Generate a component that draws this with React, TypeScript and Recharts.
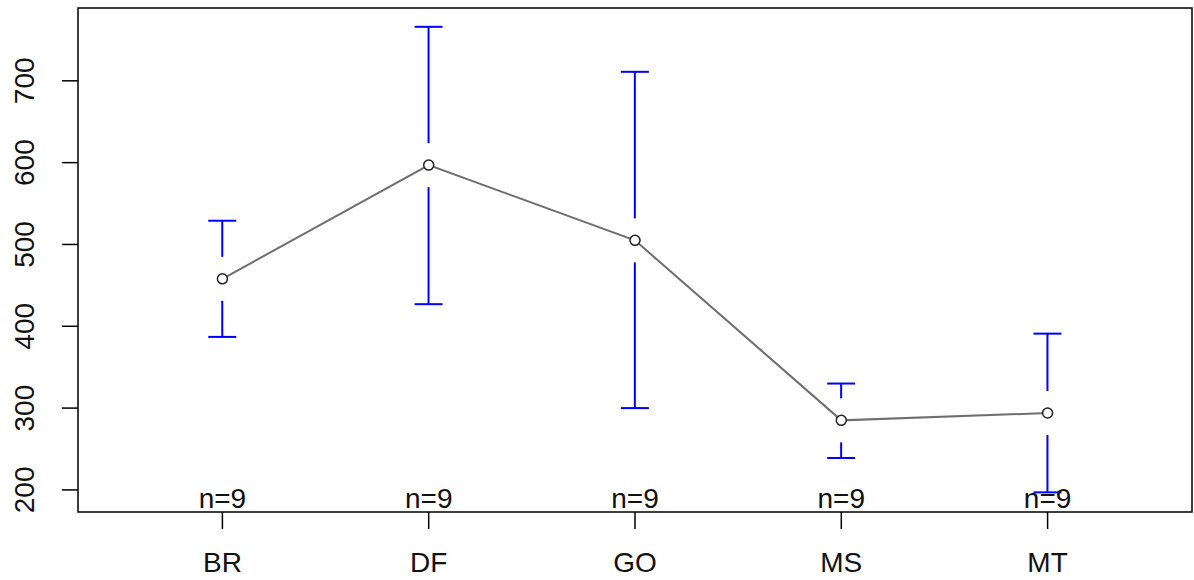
import React from 'react';
import { ComposedChart, Line, Bar, XAxis, YAxis, ReferenceArea } from 'recharts';

const categories = ['BR', 'DF', 'GO', 'MS', 'MT'];
const means = [458, 597, 505, 285, 294];
const lowerCI = [387, 427, 300, 239, 197];
const upperCI = [529, 766, 711, 330, 391];
const counts = [9, 9, 9, 9, 9];
const yTicks = [200, 300, 400, 500, 600, 700];

const data = categories.map((name, i) => ({
  pos: i + 1,
  name,
  mean: means[i],
  lower: lowerCI[i],
  upper: upperCI[i],
  n: counts[i],
}));

const FONT = '"Liberation Sans", Arial, sans-serif';
const TEXT = '#111';

// CI bar with a gap around the mean point, like gplots::plotmeans
const CiShape = (props: any) => {
  const { x, y, width, height, payload } = props;
  if (x == null || y == null) return null;
  const cx = x + width / 2;
  const top = Math.min(y, y + height);
  const bottom = Math.max(y, y + height);
  const my = top + ((bottom - top) * (payload.upper - payload.mean)) / (payload.upper - payload.lower);
  const gap = 22;
  return (
    <g stroke="#0000ff" strokeWidth={2}>
      <line x1={cx - 14} x2={cx + 14} y1={top} y2={top} />
      <line x1={cx} x2={cx} y1={top} y2={my - gap} />
      <line x1={cx} x2={cx} y1={my + gap} y2={bottom} />
      <line x1={cx - 14} x2={cx + 14} y1={bottom} y2={bottom} />
    </g>
  );
};

const XTick = (props: any) => {
  const { x, y, payload } = props;
  const idx = Math.round(payload.value) - 1;
  return (
    <g>
      <line x1={x} x2={x} y1={y} y2={y + 17} stroke="#000" strokeWidth={1.5} />
      <text x={x} y={y - 4} textAnchor="middle" fontSize={28} fontFamily={FONT} fill={TEXT}>
        n={counts[idx]}
      </text>
      <text x={x} y={y + 60} textAnchor="middle" fontSize={28} fontFamily={FONT} fill={TEXT}>
        {categories[idx]}
      </text>
    </g>
  );
};

const YTick = (props: any) => {
  const { x, y, payload } = props;
  const tx = x - 44;
  return (
    <g>
      <line x1={x - 16} x2={x} y1={y} y2={y} stroke="#000" strokeWidth={1.5} />
      <text
        x={tx}
        y={y}
        transform={`rotate(-90, ${tx}, ${y})`}
        textAnchor="middle"
        fontSize={28}
        fontFamily={FONT}
        fill={TEXT}
      >
        {payload.value}
      </text>
    </g>
  );
};

const MeanDot = (props: any) => {
  const { cx, cy } = props;
  if (cx == null || cy == null) return null;
  return <circle cx={cx} cy={cy} r={5} fill="#fff" stroke="#222" strokeWidth={1.5} />;
};

export default function App() {
  return (
    <div style={{ position: 'fixed', left: 0, top: 0, background: '#fff' }}>
      <ComposedChart
        width={1194}
        height={580}
        data={data}
        margin={{ top: 8, right: 2, bottom: 0, left: 0 }}
      >
        <XAxis
          dataKey="pos"
          type="number"
          domain={[0.3, 5.7]}
          ticks={[1, 2, 3, 4, 5]}
          allowDataOverflow
          axisLine={false}
          tickLine={false}
          tickSize={0}
          tickMargin={0}
          height={68}
          tick={<XTick />}
          interval={0}
        />
        <YAxis
          type="number"
          domain={[173, 789]}
          ticks={yTicks}
          allowDataOverflow
          axisLine={false}
          tickLine={false}
          tickSize={0}
          tickMargin={0}
          width={78}
          tick={<YTick />}
          interval={0}
        />
        <ReferenceArea
          x1={0.3}
          x2={5.7}
          y1={173}
          y2={789}
          fill="none"
          fillOpacity={0}
          stroke="#000"
          strokeWidth={1.5}
          ifOverflow="visible"
        />
        <Bar
          dataKey={(d: any) => [d.lower, d.upper]}
          barSize={28}
          shape={<CiShape />}
          isAnimationActive={false}
        />
        <Line
          dataKey="mean"
          stroke="#6e6e6e"
          strokeWidth={2}
          dot={<MeanDot />}
          activeDot={false}
          isAnimationActive={false}
        />
      </ComposedChart>
    </div>
  );
}
